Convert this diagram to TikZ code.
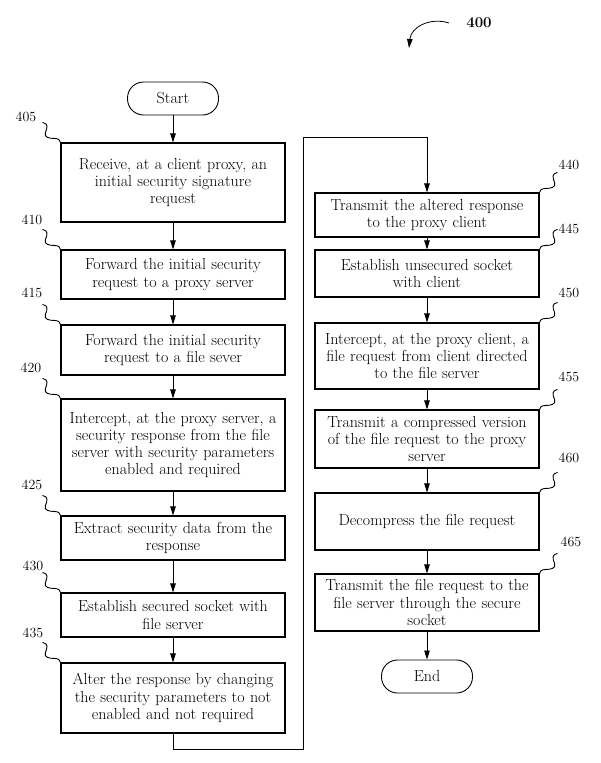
\documentclass[tikz,border=0pt]{standalone}
\usetikzlibrary{arrows.meta}
\tikzset{
  >={Triangle[length=9pt,width=5.5pt]},
  stepbox/.style={draw, line width=1.1pt, minimum width=224pt, text width=220pt, align=center, inner sep=0pt, font=\fontsize{16}{17.2}\selectfont},
  term/.style={draw, line width=0.9pt, rounded corners=16pt, minimum width=91pt, minimum height=33pt, font=\fontsize{16}{17}\selectfont},
  refnum/.style={font=\fontsize{14}{16}\selectfont},
  squig/.style={line width=0.9pt},
  flow/.style={->, line width=0.8pt},
}
\newcommand{\squigl}[1]{\draw[squig, shift={(#1)}] (-18,-20) .. controls (-12,-19) and (-13,-15) .. (-15,-10) .. controls (-17,-5) and (-11,-4) .. (-6,-4) .. controls (-2,-4) and (0,-2) .. (0,0);}
\newcommand{\squigr}[1]{\draw[squig, shift={(#1)}] (18,-20) .. controls (12,-19) and (13,-15) .. (15,-10) .. controls (17,-5) and (11,-4) .. (6,-4) .. controls (2,-4) and (0,-2) .. (0,0);}
\begin{document}
\begin{tikzpicture}[x=1pt, y=-1pt]
\useasboundingbox (0,0) rectangle (601,763);
% left column
\node [term] (start) at (173,98.5) {Start};
\node [stepbox, minimum height=79pt] (405) at (173,182.5) {Receive, at a client proxy, an\\ initial security signature\\ request};
\node [stepbox, minimum height=49pt] (410) at (173,274.5) {Forward the initial security\\ request to a proxy server};
\node [stepbox, minimum height=50pt] (415) at (173,350) {Forward the initial security\\ request to a file sever};
\node [stepbox, minimum height=92pt] (420) at (173,445) {Intercept, at the proxy server, a\\ security response from the file\\ server with security parameters\\ enabled and required};
\node [stepbox, minimum height=44pt] (425) at (173,538) {Extract security data from the\\ response};
\node [stepbox, minimum height=44pt] (430) at (173,615) {Establish secured socket with\\ file server};
\node [stepbox, minimum height=70pt] (435) at (173,698) {Alter the response by changing\\ the security parameters to not\\ enabled and not required};
% right column
\node [stepbox, minimum height=44pt] (440) at (427,215) {Transmit the altered response\\ to the proxy client};
\node [stepbox, minimum height=47pt] (445) at (427,273.5) {Establish unsecured socket\\ with client};
\node [stepbox, minimum height=66pt] (450) at (427,356) {Intercept, at the proxy client, a\\ file request from client directed\\ to the file server};
\node [stepbox, minimum height=58pt] (455) at (427,439) {Transmit a compressed version\\ of the file request to the proxy\\ server};
\node [stepbox, minimum height=57pt] (460) at (427,521.5) {Decompress the file request};
\node [stepbox, minimum height=57pt] (465) at (427,602.5) {Transmit the file request to the\\ file server through the secure\\ socket};
\node [term] (end) at (427,676.5) {End};
% reference numbers
\node [refnum] (l405) at (26,117) {405};
\node [refnum] (l410) at (32,220) {410};
\node [refnum] (l415) at (32,293) {415};
\node [refnum] (l420) at (31,368) {420};
\node [refnum] (l425) at (32,485) {425};
\node [refnum] (l430) at (33,566) {430};
\node [refnum] (l435) at (33,633) {435};
\node [refnum] (l440) at (569,165) {440};
\node [refnum] (l445) at (569,229) {445};
\node [refnum] (l450) at (569,293) {450};
\node [refnum] (l455) at (569,377) {455};
\node [refnum] (l460) at (569,458) {460};
\node [refnum] (l465) at (571,542) {465};
\node [font=\fontsize{15}{17}\selectfont\bfseries] (l400) at (479,23) {400};
\squigl{405.north west}
\squigl{410.north west}
\squigl{415.north west}
\squigl{420.north west}
\squigl{425.north west}
\squigl{430.north west}
\squigl{435.north west}
\squigr{440.north east}
\squigr{445.north east}
\squigr{450.north east}
\squigr{455.north east}
\squigr{460.north east}
\squigr{465.north east}
% connectors
\draw [flow] (start) -- (405);
\draw [flow] (405) -- (410);
\draw [flow] (410) -- (415);
\draw [flow] (415) -- (420);
\draw [flow] (420) -- (425);
\draw [flow] (425) -- (430);
\draw [flow] (430) -- (435);
\coordinate (lb) at (303,749);
\coordinate (lt) at (303,137);
\draw [flow] (435.south) |- (lb) -- (lt) -| (440.north);
\draw [flow] (440) -- (445);
\draw [flow] (445) -- (450);
\draw [flow] (450) -- (455);
\draw [flow] (455) -- (460);
\draw [flow] (460) -- (465);
\draw [flow] (465) -- (end);
% figure pointer
\coordinate (pa) at (449,23);
\coordinate (pb) at (409,48);
\draw [flow] (pa) .. controls (430,17) and (411,27) .. (pb);
\end{tikzpicture}
\end{document}
